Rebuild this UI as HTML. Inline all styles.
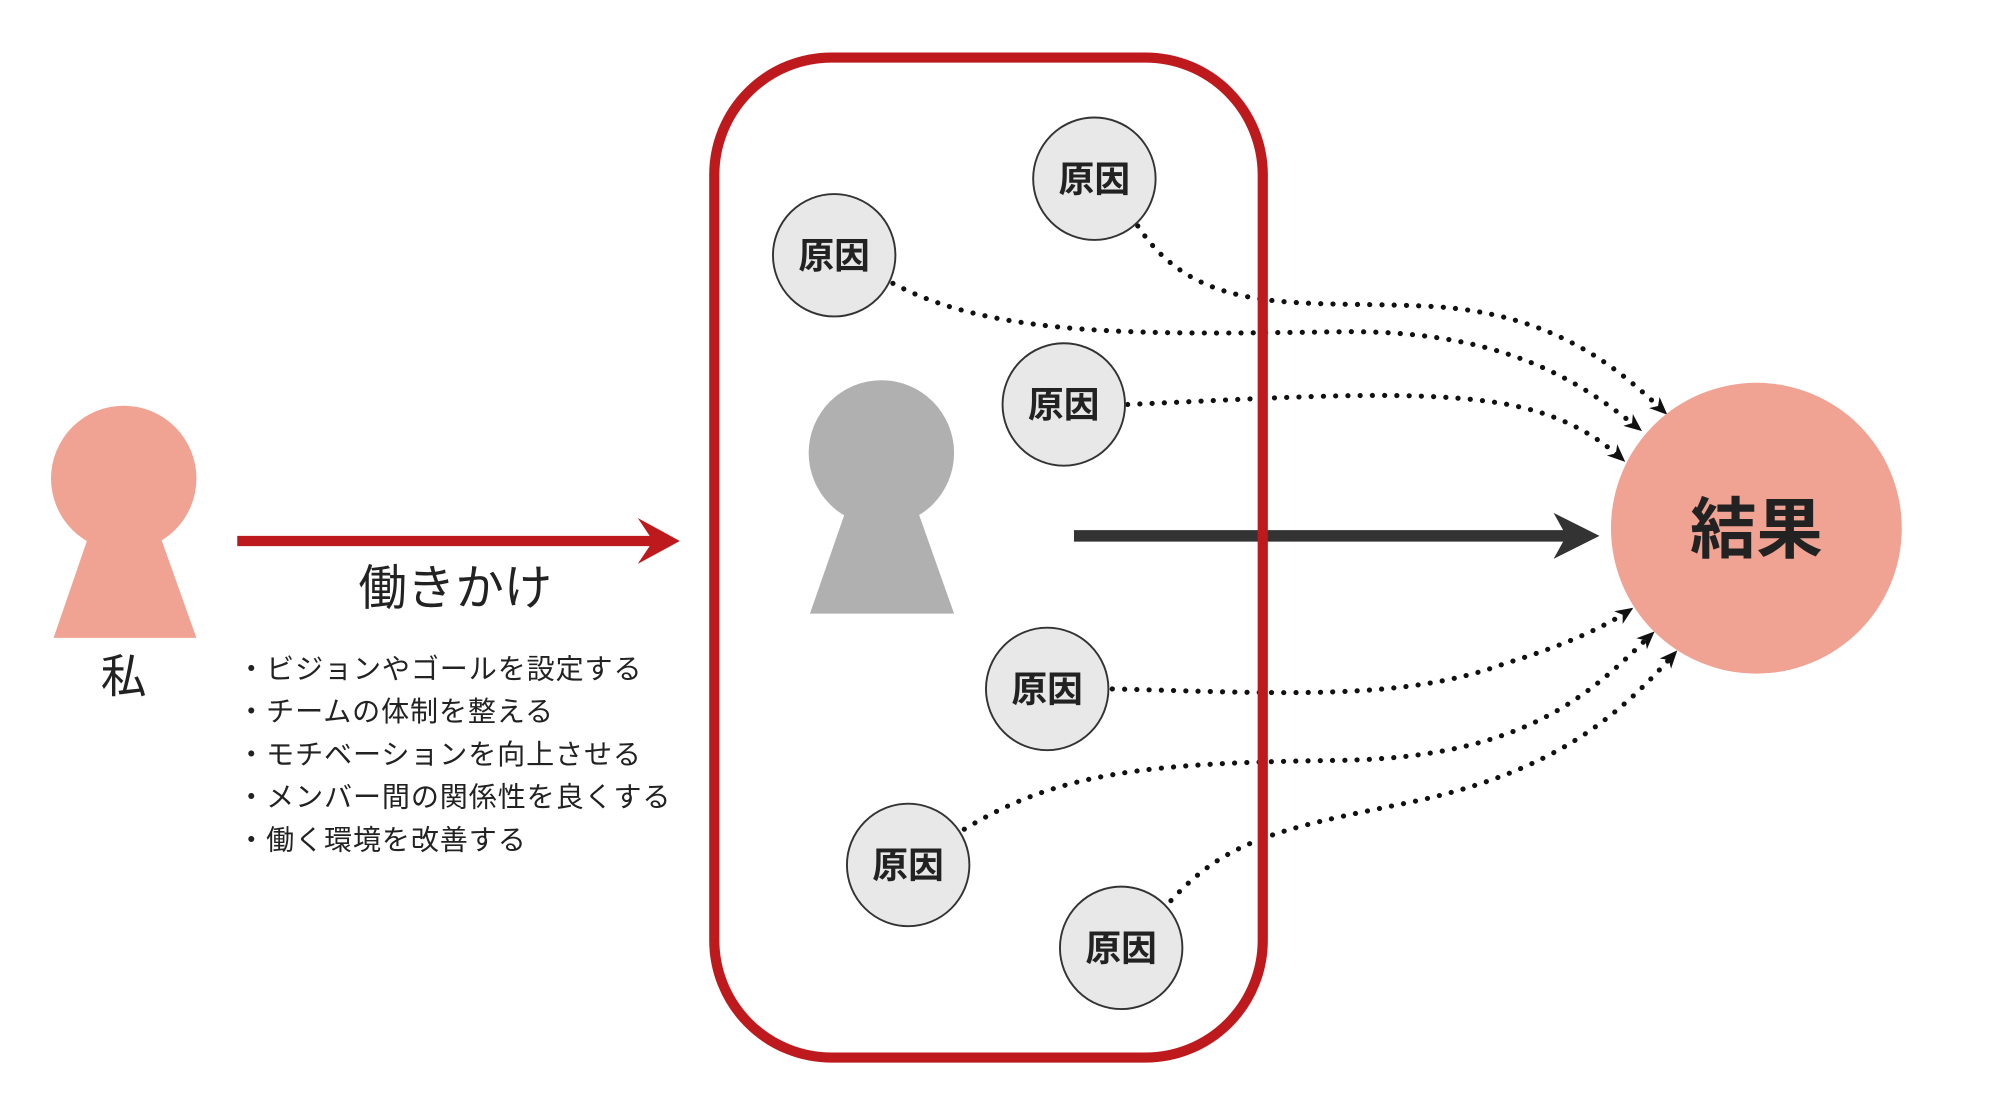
<!DOCTYPE html>
<html><head><meta charset="utf-8"><style>
html,body{margin:0;padding:0;background:#fff;}
svg{display:block;}
text{font-family:"Liberation Sans","Noto Sans CJK JP",sans-serif;}
</style></head><body>
<svg width="2000" height="1110" viewBox="0 0 1568 870" xmlns="http://www.w3.org/2000/svg">
<defs>
<marker id="ah" markerWidth="14" markerHeight="14" refX="11" refY="7" orient="auto" markerUnits="userSpaceOnUse" viewBox="0 0 14 14">
<path d="M0,1 L14,7 L0,13 L4,7 Z" fill="#111"/>
</marker>
</defs>
<rect width="1568" height="870" fill="#fff"/>
<polygon points="97,340 42,500 154,500" fill="#f0a393"/>
<circle cx="97" cy="375" r="57" fill="#f0a393"/>
<text x="97" y="543" font-size="36" text-anchor="middle" fill="#222">私</text>
<line x1="186" y1="424" x2="518" y2="424" stroke="#be1a1e" stroke-width="8"/>
<path d="M500,406 L533,424 L500,442 L512,424 Z" fill="#be1a1e"/>
<text x="357" y="474" font-size="38" text-anchor="middle" fill="#222">働きかけ</text>
<g font-size="22" fill="#222" letter-spacing="0.7">
<text x="186" y="532">・ビジョンやゴールを設定する</text>
<text x="186" y="565">・チームの体制を整える</text>
<text x="186" y="599">・モチベーションを向上させる</text>
<text x="186" y="632">・メンバー間の関係性を良くする</text>
<text x="186" y="666">・働く環境を改善する</text>
</g>
<polygon points="691,320 635,481 748,481" fill="#b0b0b0"/>
<circle cx="691" cy="355" r="57" fill="#b0b0b0"/>
<line x1="842" y1="420" x2="1232" y2="420" stroke="#333" stroke-width="9"/>
<path d="M1218,402 L1254,420 L1218,438 L1228,420 Z" fill="#333"/>
<g fill="none" stroke="#111" stroke-width="4" stroke-linecap="round" stroke-dasharray="0.1 9.5" marker-end="url(#ah)">
<path d="M892,177 C940,250 1020,235 1120,240 C1220,245 1270,290 1305,323"/>
<path d="M700,222 C780,265 900,262 1050,260 C1180,258 1240,300 1285,336"/>
<path d="M884,317 C1000,312 1100,305 1170,315 C1220,322 1250,340 1272,360"/>
<path d="M872,540 C1000,543 1100,550 1180,520 C1230,505 1260,490 1278,478"/>
<path d="M756,650 C830,605 900,598 1050,596 C1200,594 1250,540 1295,497"/>
<path d="M918,706 C960,660 1000,650 1100,630 C1220,606 1270,560 1313,512"/>
</g>
<rect x="560" y="45" width="430" height="784" rx="92" ry="92" fill="none" stroke="#be1a1e" stroke-width="8"/>
<g fill="#e8e8e8" stroke="#333" stroke-width="1.5">
<circle cx="858" cy="140" r="48"/>
<circle cx="654" cy="200" r="48"/>
<circle cx="834" cy="317" r="48"/>
<circle cx="821" cy="540" r="48"/>
<circle cx="712" cy="678" r="48"/>
<circle cx="879" cy="743" r="48"/>
</g>
<g font-size="28" font-weight="bold" text-anchor="middle" fill="#222">
<text x="858" y="150">原因</text>
<text x="654" y="210">原因</text>
<text x="834" y="327">原因</text>
<text x="821" y="550">原因</text>
<text x="712" y="688">原因</text>
<text x="879" y="753">原因</text>
</g>
<circle cx="1377" cy="414" r="114" fill="#f0a393"/>
<text x="1377" y="433" font-size="52" font-weight="bold" text-anchor="middle" fill="#222">結果</text>
</svg>
</body></html>
